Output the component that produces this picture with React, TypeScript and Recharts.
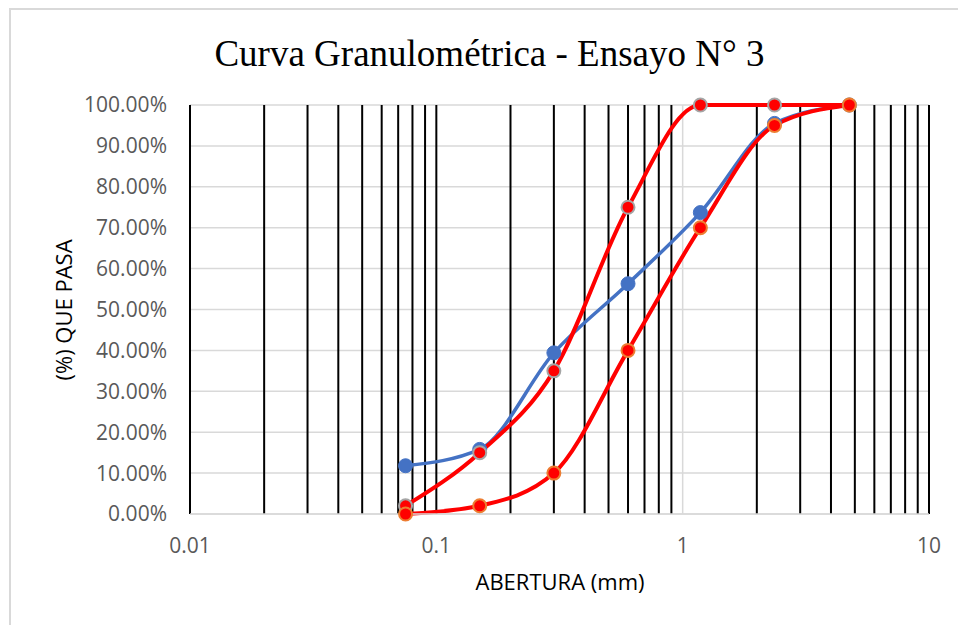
import { LineChart, Line, XAxis, YAxis, CartesianGrid, ReferenceLine } from "recharts";

// aberturas de tamiz (mm)
const aberturas = [0.075, 0.15, 0.3, 0.6, 1.18, 2.36, 4.75];
// % que pasa
const ensayo = [11.8, 15.8, 39.4, 56.3, 73.7, 95.5, 100];
const limiteSuperior = [2, 15, 35, 75, 100, 100, 100];
const limiteInferior = [0, 2, 10, 40, 70, 95, 100];

const xTicks = [0.01, 0.1, 1, 10];
const yTicks = [0, 10, 20, 30, 40, 50, 60, 70, 80, 90, 100];

// lineas verticales negras del papel logaritmico
const lineasNegras = [
  0.01, 0.02, 0.03, 0.04, 0.05, 0.06, 0.07, 0.08, 0.09, 0.1,
  0.2, 0.3, 0.4, 0.5, 0.6, 0.7, 0.8, 0.9,
  2, 3, 4, 5, 6, 7, 8, 9, 10,
];
const lineasGrises = [1];

const toPoints = (ys: number[]) => aberturas.map((x, i) => ({ x, y: ys[i] }));

const tickFont = { fill: "#595959", fontSize: 21, fontFamily: "Open Sans" };

const App = () => {
  const dEnsayo = toPoints(ensayo);
  const dSup = toPoints(limiteSuperior);
  const dInf = toPoints(limiteInferior);

  return (
    <div style={{ position: "absolute", left: 0, top: 0, width: 958, height: 625, background: "#fff" }}>
      <div
        style={{
          position: "absolute",
          left: 9,
          top: 8,
          width: 949,
          height: 617,
          borderTop: "2px solid #D9D9D9",
          borderLeft: "2px solid #D9D9D9",
        }}
      />
      <div
        style={{
          position: "absolute",
          left: 0,
          top: 35,
          width: 979,
          textAlign: "center",
          fontFamily: "Liberation Serif",
          fontSize: 37,
          lineHeight: 1,
          color: "#000",
        }}
      >
        Curva Granulométrica - Ensayo N° 3
      </div>
      <LineChart
        width={958}
        height={625}
        margin={{ top: 105, right: 29, bottom: 51, left: 0 }}
        style={{ position: "absolute", left: 0, top: 0 }}
      >
        <CartesianGrid vertical={false} stroke="#D9D9D9" strokeWidth={1.5} />
        <XAxis
          dataKey="x"
          type="number"
          scale="log"
          domain={[0.01, 10]}
          ticks={xTicks}
          allowDataOverflow
          tickFormatter={(v: number) => String(v)}
          axisLine={{ stroke: "#D9D9D9", strokeWidth: 1.5 }}
          tickLine={false}
          tickSize={0}
          tickMargin={24}
          height={60}
          tick={tickFont}
        />
        <YAxis
          type="number"
          domain={[0, 100]}
          ticks={yTicks}
          tickFormatter={(v: number) => `${v.toFixed(2)}%`}
          axisLine={false}
          tickLine={false}
          tickSize={0}
          tickMargin={23}
          width={190}
          tick={tickFont}
        />
        {lineasGrises.map((v) => (
          <ReferenceLine key={"g" + v} x={v} stroke="#D9D9D9" strokeWidth={1.5} />
        ))}
        {lineasNegras.map((v) => (
          <ReferenceLine key={"n" + v} x={v} stroke="#000" strokeWidth={2} />
        ))}
        <Line
          data={dEnsayo}
          dataKey="y"
          type="monotone"
          stroke="#4472C4"
          strokeWidth={3.5}
          dot={{ r: 7, fill: "#4472C4", stroke: "#4472C4", strokeWidth: 1 }}
          isAnimationActive={false}
        />
        <Line
          data={dSup}
          dataKey="y"
          type="monotone"
          stroke="#FF0000"
          strokeWidth={4}
          dot={{ r: 6.5, fill: "#FF0000", stroke: "#A5A5A5", strokeWidth: 2 }}
          isAnimationActive={false}
        />
        <Line
          data={dInf}
          dataKey="y"
          type="monotone"
          stroke="#FF0000"
          strokeWidth={4}
          dot={{ r: 6.5, fill: "#FF0000", stroke: "#ED7D31", strokeWidth: 2 }}
          isAnimationActive={false}
        />
      </LineChart>
      <div
        style={{
          position: "absolute",
          left: 410,
          top: 570,
          width: 300,
          textAlign: "center",
          fontFamily: "Open Sans",
          fontSize: 22,
          lineHeight: 1,
          color: "#000",
        }}
      >
        ABERTURA (mm)
      </div>
      <div
        style={{
          position: "absolute",
          left: 63 - 150,
          top: 310 - 11,
          width: 300,
          height: 22,
          textAlign: "center",
          fontFamily: "Open Sans",
          fontSize: 22,
          lineHeight: "22px",
          color: "#000",
          transform: "rotate(-90deg)",
        }}
      >
        (%) QUE PASA
      </div>
    </div>
  );
};

export default App;
